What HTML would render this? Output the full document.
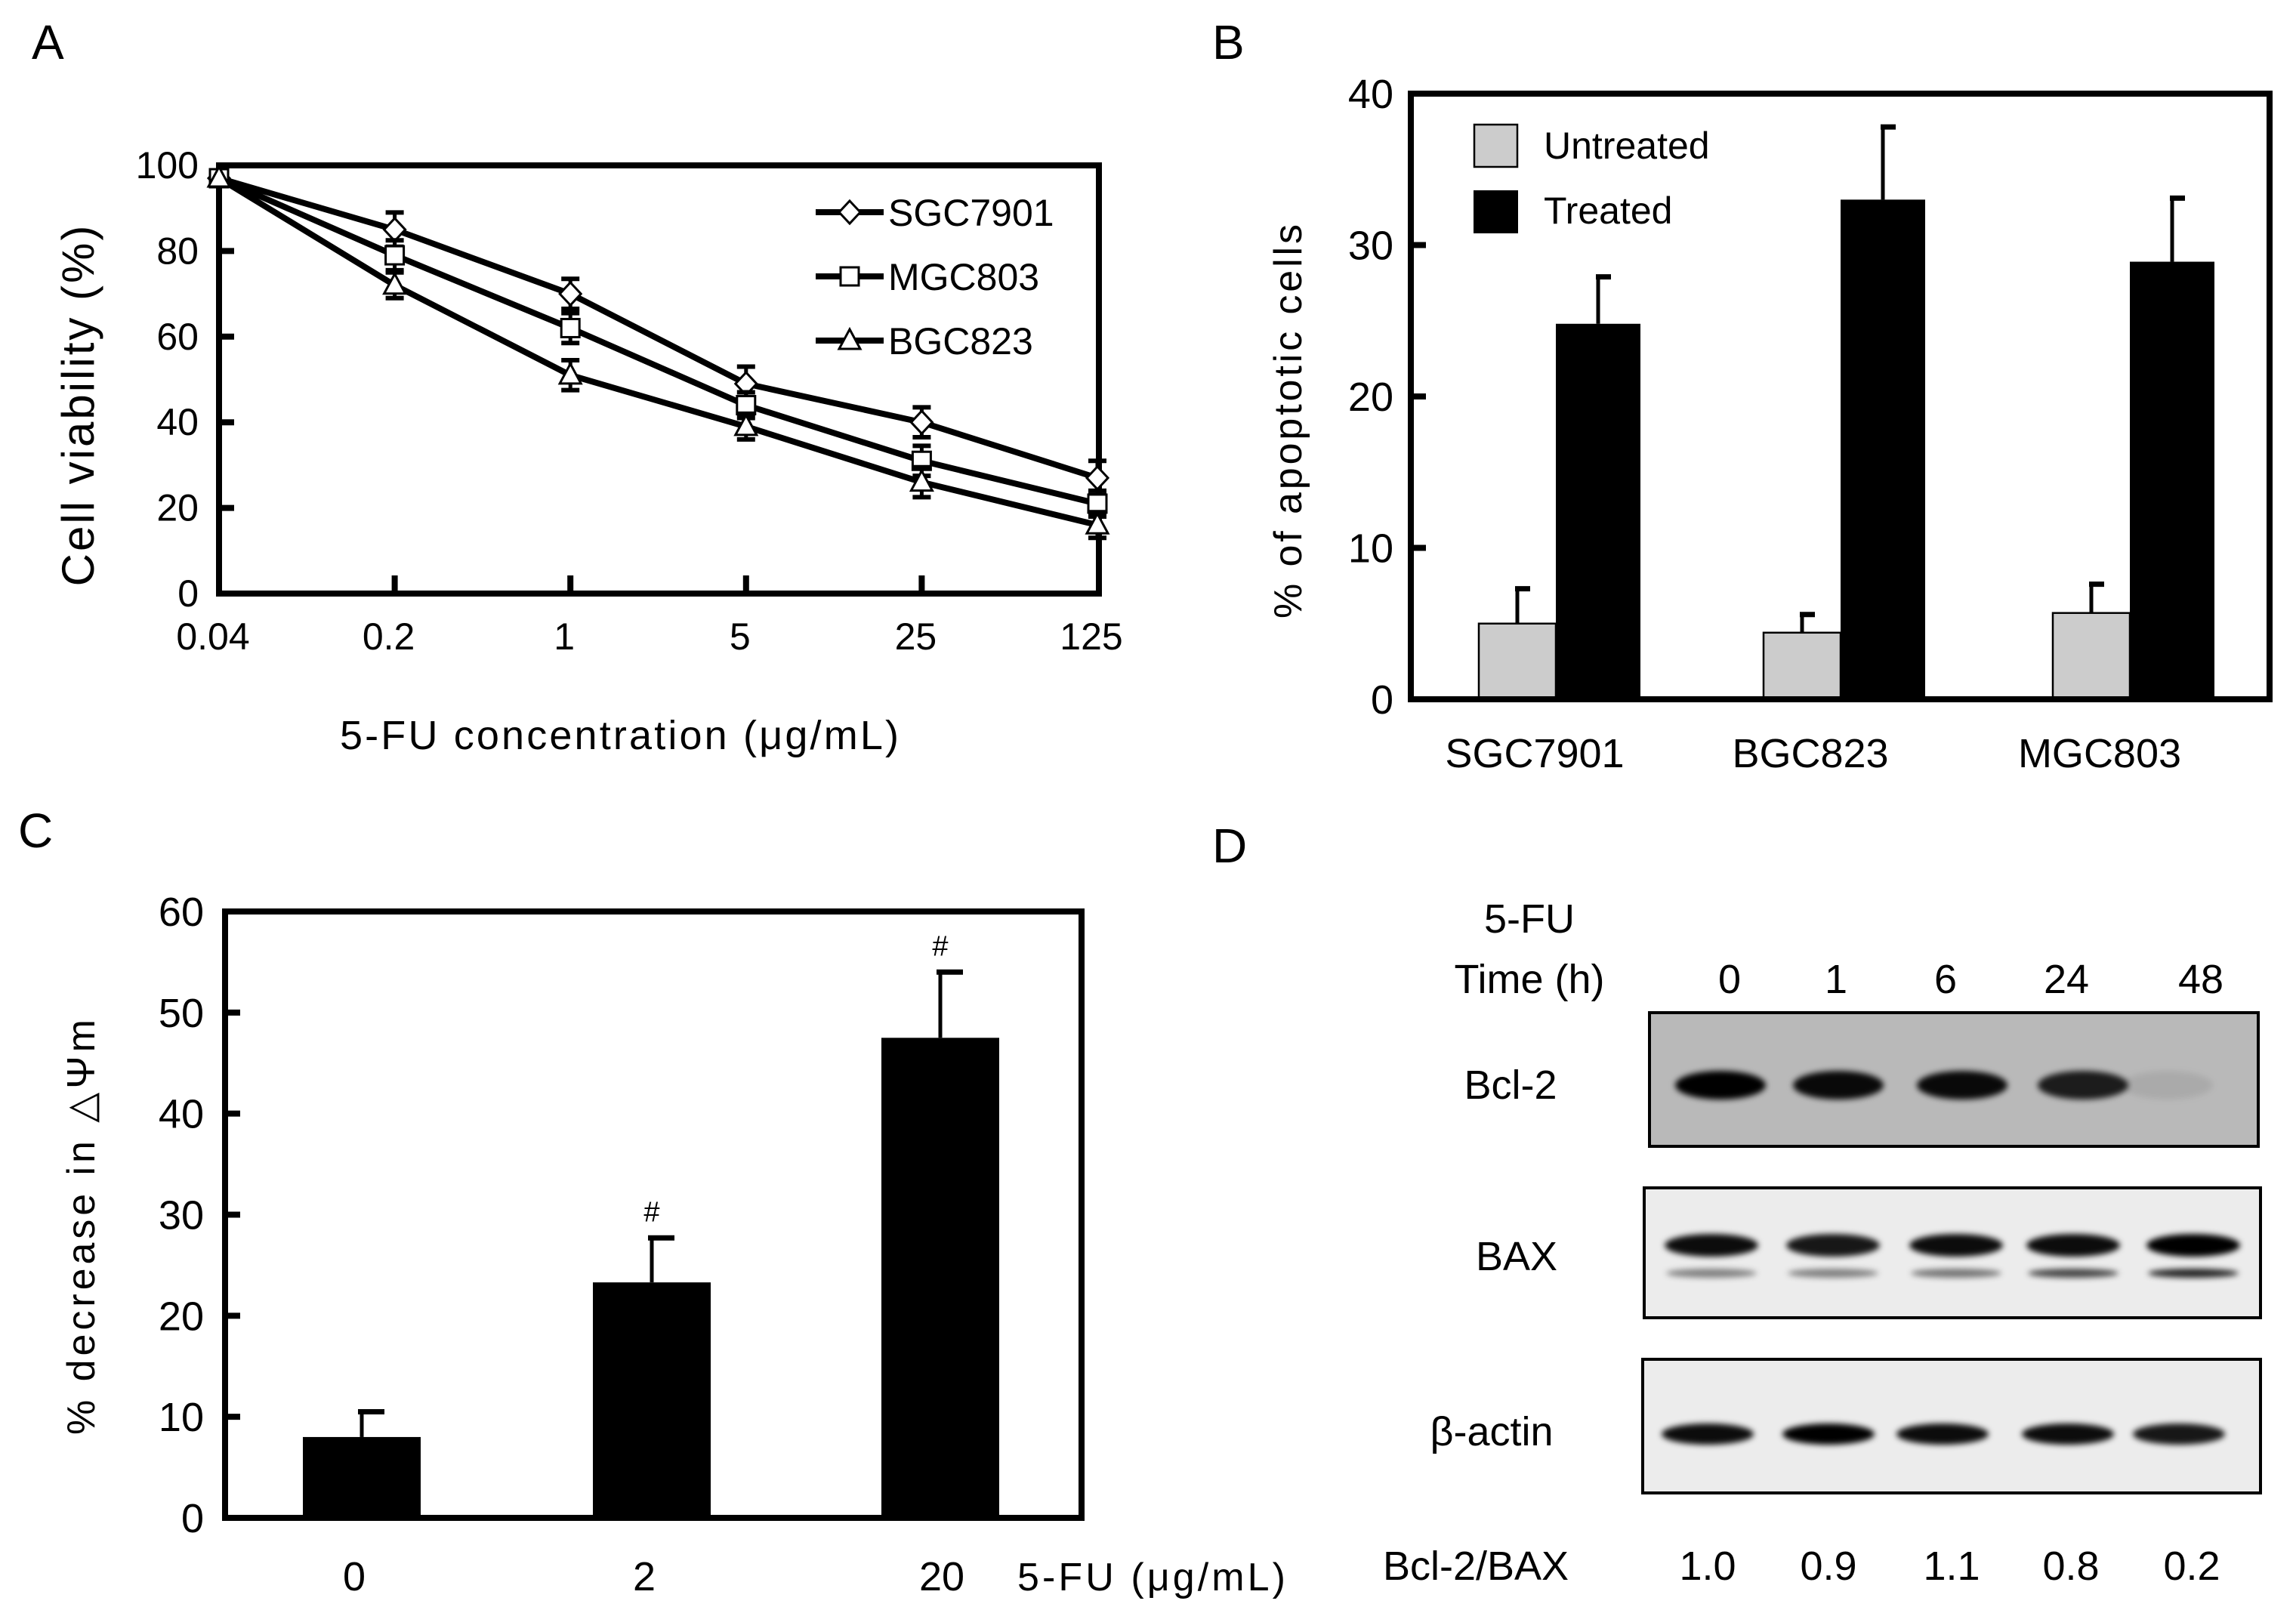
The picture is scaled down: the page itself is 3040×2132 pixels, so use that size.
<!DOCTYPE html>
<html><head><meta charset="utf-8"><style>
html,body{margin:0;padding:0;background:#fff;overflow:hidden;}
svg{display:block;}
text{font-family:"Liberation Sans",sans-serif;fill:#000;}
</style></head><body>
<svg id="fig" width="3040" height="2132" viewBox="0 0 3040 2132" xmlns="http://www.w3.org/2000/svg">
<defs>
<filter id="blur" x="-20%" y="-60%" width="140%" height="220%"><feGaussianBlur stdDeviation="4"/></filter>
</defs>
</svg>
<script>
// ---- Panel A data ----
const aCategories = ["0.04","0.2","1","5","25","125"];
const aSeriesNames = ["SGC7901","MGC803","BGC823"];
const aSGC7901 = [97,85,70,49,40,27];
const aMGC803 = [97,79,62,44,31,21];
const aBGC823 = [97,72,51,39,26,16];
const aErrSGC = [0,4,3.5,4,3.5,4];
const aErrMGC = [0,3.5,3.5,3,3.5,3];
const aErrBGC = [0,3,3.5,3,3.5,3];
const aYTicks = [0,20,40,60,80,100];
// ---- Panel B data ----
const bCategories = ["SGC7901","BGC823","MGC803"];
const bUntreated = [5.0,4.4,5.7];
const bTreated = [24.8,33.0,28.9];
const bErrUntreated = [2.3,1.2,1.9];
const bErrTreated = [3.1,4.8,4.2];
const bYTicks = [0,10,20,30,40];
// ---- Panel C data ----
const cCategories = ["0","2","20"];
const cValues = [8.0,23.3,47.5];
const cErrors = [2.5,4.4,6.5];
const cSignif = [false,true,true];
const cYTicks = [0,10,20,30,40,50,60];
// ---- Panel D data ----
const dLanes = ["0","1","6","24","48"];
const dRatios = ["1.0","0.9","1.1","0.8","0.2"];
const dBcl2 = [1.0,0.95,0.95,0.85,0.08];
const dBaxUpper = [0.95,0.9,0.95,0.95,1.0];
const dBaxLower = [0.45,0.45,0.5,0.7,0.85];
const dActin = [0.95,1.0,0.95,0.95,0.9];

const svg = document.getElementById('fig');
const NS = 'http://www.w3.org/2000/svg';
function mk(tag, attrs, parent){ const e=document.createElementNS(NS,tag); for(const k in attrs) e.setAttribute(k,attrs[k]); (parent||svg).appendChild(e); return e; }
function txt(s, x, y, size, anchor, parent){ const t=mk('text',{x:x,y:y,'font-size':size,'text-anchor':anchor||'middle'},parent); t.textContent=s; return t; }
const FS = 50;

// ================= Panel A =================
const gA = mk('g',{});


const lblA = txt('A',42,78,64,'start',gA);


const aL=290,aR=1455,aT=219,aB=786;
const ay = v => aB - (v/100)*(aB-aT);
const ax = i => 290 + i*232.6;
const boxA = mk('rect',{x:aL,y:aT,width:aR-aL,height:aB-aT,fill:'none',stroke:'#000','stroke-width':8},gA);


aYTicks.forEach(v=>{
  if(v>0&&v<100) mk('line',{x1:aL,x2:aL+20,y1:ay(v),y2:ay(v),stroke:'#000','stroke-width':8},gA);
  const t = txt(String(v),263,ay(v)+17,FS,'end',gA);
  
  
});
aCategories.forEach((c,i)=>{
  if(i>0&&i<aCategories.length-1) mk('line',{x1:ax(i),x2:ax(i),y1:aB,y2:aB-24,stroke:'#000','stroke-width':8},gA);
  const t = txt(c,ax(i)-8,860,FS,'middle',gA);
  
  
});
const axA = txt('5-FU concentration (μg/mL)',820,992,54,'middle',gA);
axA.setAttribute('textLength','740');


const ayA = txt('Cell viability (%)',0,0,60,'middle',gA);
ayA.setAttribute('transform','translate(124,536) rotate(-90)');
ayA.setAttribute('letter-spacing','3');


function marker(shape,x,y,parent){
  let e;
  if(shape==='diamond') e=mk('polygon',{points:`${x},${y-15} ${x+14},${y} ${x},${y+15} ${x-14},${y}`,fill:'#fff',stroke:'#000','stroke-width':3},parent);
  else if(shape==='square') e=mk('rect',{x:x-12,y:y-12,width:24,height:24,fill:'#fff',stroke:'#000','stroke-width':3},parent);
  else e=mk('polygon',{points:`${x},${y-15} ${x+14},${y+11} ${x-14},${y+11}`,fill:'#fff',stroke:'#000','stroke-width':3},parent);
  return e;
}
const aSeries=[[aSGC7901,aErrSGC,'diamond','sgc7901'],[aMGC803,aErrMGC,'square','mgc803'],[aBGC823,aErrBGC,'triangle','bgc823']];
aSeries.forEach(([vals,errs,shape,nm])=>{
  const g=mk('g',{},gA);
  
  
  vals.forEach((v,i)=>{ if(errs[i]>0){ mk('line',{x1:ax(i),x2:ax(i),y1:ay(v+errs[i]),y2:ay(v-errs[i]),stroke:'#000','stroke-width':5},g);
    mk('line',{x1:ax(i)-12,x2:ax(i)+12,y1:ay(v+errs[i]),y2:ay(v+errs[i]),stroke:'#000','stroke-width':6},g);
    mk('line',{x1:ax(i)-12,x2:ax(i)+12,y1:ay(v-errs[i]),y2:ay(v-errs[i]),stroke:'#000','stroke-width':6},g);} });
  const line = mk('polyline',{points:vals.map((v,i)=>ax(i)+','+ay(v)).join(' '),fill:'none',stroke:'#000','stroke-width':8},g);
  
  
  vals.forEach((v,i)=>{ const m=marker(shape,ax(i),ay(v),g);
    
     });
});
const legY=[281,366,451], legShapes=['diamond','square','triangle'];
aSeriesNames.forEach((n,i)=>{
  const g=mk('g',{},gA);
  
  
  mk('line',{x1:1080,x2:1170,y1:legY[i],y2:legY[i],stroke:'#000','stroke-width':8},g);
  marker(legShapes[i],1125,legY[i],g);
  txt(n,1176,legY[i]+18,FS,'start',g);
});

// ================= Panel B =================
const gB = mk('g',{});


const lblB = txt('B',1605,78,64,'start',gB);


const bL=1868,bR=3005,bT=124,bB=926;
const by = v => bB - (v/40)*(bB-bT);
const bCenters = [2060,2437,2820];
const bW=102;
bCategories.forEach((c,i)=>{
  const xu=bCenters[i]-bW, xt=bCenters[i];
  mk('line',{x1:xu+bW/2,x2:xu+bW/2,y1:by(bUntreated[i]),y2:by(bUntreated[i]+bErrUntreated[i]),stroke:'#000','stroke-width':5},gB);
  mk('line',{x1:xu+bW/2-3,x2:xu+bW/2+17,y1:by(bUntreated[i]+bErrUntreated[i]),y2:by(bUntreated[i]+bErrUntreated[i]),stroke:'#000','stroke-width':7},gB);
  const ru=mk('rect',{x:xu,y:by(bUntreated[i]),width:bW,height:bB-by(bUntreated[i]),fill:'#cccccc',stroke:'#000','stroke-width':2.5},gB);
  
  
  const tw=bW+10;
  mk('line',{x1:xt+tw/2,x2:xt+tw/2,y1:by(bTreated[i]),y2:by(bTreated[i]+bErrTreated[i]),stroke:'#000','stroke-width':5},gB);
  mk('line',{x1:xt+tw/2-3,x2:xt+tw/2+17,y1:by(bTreated[i]+bErrTreated[i]),y2:by(bTreated[i]+bErrTreated[i]),stroke:'#000','stroke-width':7},gB);
  const rt=mk('rect',{x:xt,y:by(bTreated[i]),width:tw,height:bB-by(bTreated[i]),fill:'#000'},gB);
  
  
  const t=txt(c,bCenters[i]-28+(i>0?-12:0),1016,54,'middle',gB);
  
  
});
const boxB = mk('rect',{x:bL,y:bT,width:bR-bL,height:bB-bT,fill:'none',stroke:'#000','stroke-width':8},gB);


bYTicks.forEach(v=>{
  if(v>0&&v<40) mk('line',{x1:bL,x2:bL+20,y1:by(v),y2:by(v),stroke:'#000','stroke-width':8},gB);
  const t=txt(String(v),1845,by(v)+19,54,'end',gB);
  
  
});
const ayB = txt('% of apoptotic cells',0,0,52,'middle',gB);
ayB.setAttribute('transform','translate(1723,558) rotate(-90)');
ayB.setAttribute('textLength','522');


const lg1=mk('g',{},gB);


mk('rect',{x:1952,y:165,width:57,height:56,fill:'#cccccc',stroke:'#000','stroke-width':2.5},lg1);
txt('Untreated',2044,210,50,'start',lg1);
const lg2=mk('g',{},gB);


mk('rect',{x:1951,y:252,width:59,height:57,fill:'#000'},lg2);
txt('Treated',2044,296,50,'start',lg2);

// ================= Panel C =================
const gC = mk('g',{});


const lblC = txt('C',24,1122,64,'start',gC);


const cL=298,cR=1432,cT=1207,cB=2010;
const cy = v => cB - (v/60)*(cB-cT);
const cCenters=[479,863,1245], cW=156;
cCategories.forEach((c,i)=>{
  const x=cCenters[i], top=cy(cValues[i]), et=cy(cValues[i]+cErrors[i]);
  mk('line',{x1:x,x2:x,y1:top,y2:et,stroke:'#000','stroke-width':5},gC);
  mk('line',{x1:x-5,x2:x+30,y1:et,y2:et,stroke:'#000','stroke-width':7},gC);
  const r=mk('rect',{x:x-cW/2,y:top,width:cW,height:cB-top,fill:'#000'},gC);
  
  
  if(cSignif[i]){ const s=txt('#',x,et-22,38,'middle',gC);
    s.setAttribute('font-family','Liberation Serif, serif');
    
     }
  const t=txt(c,x-10+(i==2?12:0),2106,54,'middle',gC);
  
  
});
const boxC = mk('rect',{x:cL,y:cT,width:cR-cL,height:cB-cT,fill:'none',stroke:'#000','stroke-width':8},gC);


cYTicks.forEach(v=>{
  if(v>0&&v<60) mk('line',{x1:cL,x2:cL+20,y1:cy(v),y2:cy(v),stroke:'#000','stroke-width':8},gC);
  const t=txt(String(v),270,cy(v)+19,54,'end',gC);
  
  
});
const cxT = txt('5-FU (μg/mL)',1347,2106,52,'start',gC);
cxT.setAttribute('textLength','355');


const ayC = txt('% decrease in △Ψm',0,0,52,'middle',gC);
ayC.setAttribute('transform','translate(125,1625) rotate(-90)');
ayC.setAttribute('textLength','550');



// ================= Panel D =================
const gD = mk('g',{});


const lblD = txt('D',1605,1142,64,'start',gD);


const h1=txt('5-FU',2025,1235,54,'middle',gD);


const h2=txt('Time (h)',2025,1315,54,'middle',gD);


const laneX=[2290,2431,2576,2736,2914];
dLanes.forEach((l,i)=>{ const t=txt(l,laneX[i],1315,54,'middle',gD);
  
   });
function blot(name,x,y,w,h,bg,label,lx,ly){
  const g=mk('g',{},gD);
  
  
  mk('rect',{x:x,y:y,width:w,height:h,fill:bg,stroke:'#000','stroke-width':4},g);
  const t=txt(label,lx,ly+18,54,'middle',gD);
  
  
  return g;
}
const gBcl=blot('bcl2-blot',2184,1341,806,177,'#b9b9b9','Bcl-2',2000,1437);
const bclX=[2278,2434,2598,2758,2870];
dBcl2.forEach((v,i)=>{ const e=mk('ellipse',{cx:bclX[i],cy:1437,rx:60,ry:19,fill:'#000','fill-opacity':v,filter:'url(#blur)'},gBcl);
  
   });
const gBax=blot('bax-blot',2177,1573,816,172,'#ececec','BAX',2008,1664);
const baxX=[2266,2427,2590,2745,2904];
dBaxUpper.forEach((v,i)=>{ const e=mk('ellipse',{cx:baxX[i],cy:1649,rx:62,ry:15,fill:'#000','fill-opacity':v,filter:'url(#blur)'},gBax);
  
   });
dBaxLower.forEach((v,i)=>{ const e=mk('ellipse',{cx:baxX[i],cy:1686,rx:60,ry:6,fill:'#000','fill-opacity':v,filter:'url(#blur)'},gBax);
  
   });
const gAct=blot('actin-blot',2175,1800,818,177,'#ececec','β-actin',1975,1896);
const actX=[2261,2421,2572,2738,2885];
dActin.forEach((v,i)=>{ const e=mk('ellipse',{cx:actX[i],cy:1899,rx:61,ry:14,fill:'#000','fill-opacity':v,filter:'url(#blur)'},gAct);
  
   });
const rl=txt('Bcl-2/BAX',1954,2092,54,'middle',gD);


const ratioX=[2261,2421,2584,2742,2902];
dRatios.forEach((r,i)=>{ const t=txt(r,ratioX[i],2092,54,'middle',gD);
  
   });
</script>
</body></html>
